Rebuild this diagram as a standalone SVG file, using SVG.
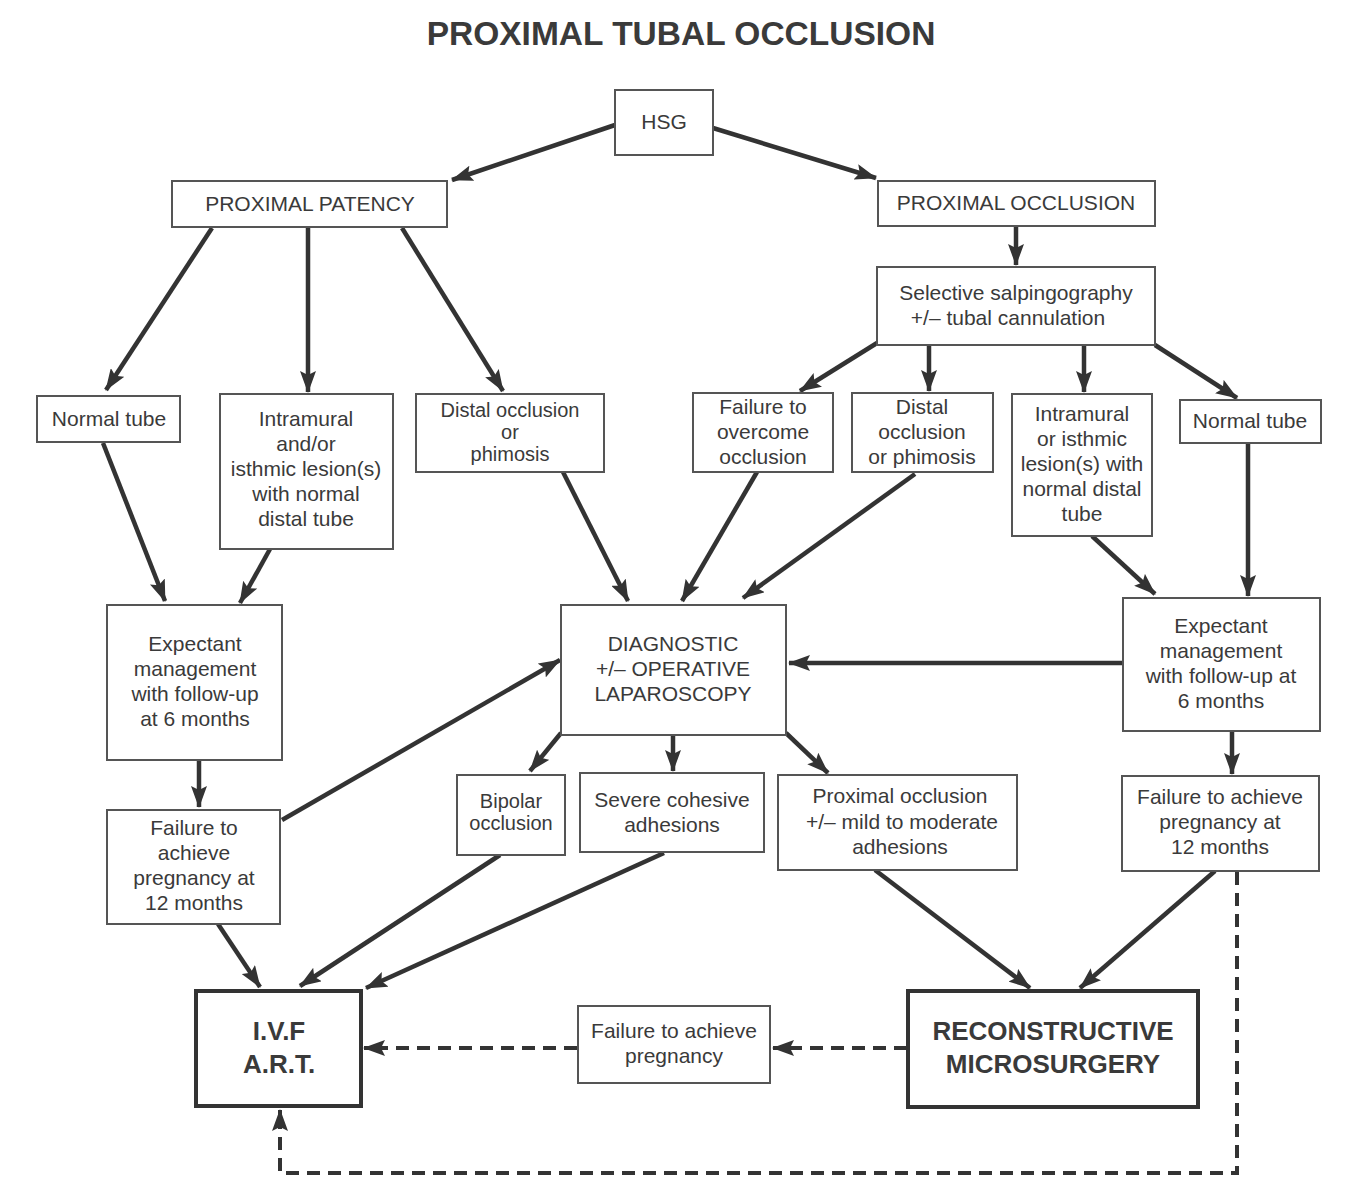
<svg xmlns="http://www.w3.org/2000/svg" width="1362" height="1178" viewBox="0 0 1362 1178">
<defs>
<style>
.box{fill:#fff;stroke:#555;stroke-width:2}
.bbox{fill:#fff;stroke:#333;stroke-width:4}
text{font-family:"Liberation Sans",Arial,sans-serif;fill:#3a3a3a;text-anchor:middle}
.t{font-size:21px}
.s{font-size:20px}
.b{font-size:26px;font-weight:bold}
.ttl{font-size:33.5px;font-weight:bold}
.c{fill:none;stroke:#333;stroke-width:4.5;marker-end:url(#ah)}
.d{fill:none;stroke:#333;stroke-width:4;stroke-dasharray:13 8}
</style>
<marker id="ah" markerUnits="userSpaceOnUse" markerWidth="22" markerHeight="16" refX="21" refY="8" orient="auto">
<path d="M0,0 L22,8 L0,16 L4,8 z" fill="#333"/>
</marker>
</defs>
<rect width="1362" height="1178" fill="#fff"/>
<text class="ttl" x="681" y="45">PROXIMAL TUBAL OCCLUSION</text>

<g id="connectors">
<path class="c" d="M615,125 L452,180"/>
<path class="c" d="M713,128 L876,178"/>
<path class="c" d="M212,228 L106,390"/>
<path class="c" d="M308,228 L308,392"/>
<path class="c" d="M402,228 L503,391"/>
<path class="c" d="M1016,227 L1016,265"/>
<path class="c" d="M877,343 L800,391"/>
<path class="c" d="M929,345 L929,391"/>
<path class="c" d="M1084,345 L1084,392"/>
<path class="c" d="M1155,345 L1237,398"/>
<path class="c" d="M103,443 L165,601"/>
<path class="c" d="M270,549 L240,603"/>
<path class="c" d="M563,472 L628,601"/>
<path class="c" d="M757,472 L682,601"/>
<path class="c" d="M915,474 L743,598"/>
<path class="c" d="M1092,536 L1155,594"/>
<path class="c" d="M1248,444 L1248,596"/>
<path class="c" d="M1123,663 L789,663"/>
<path class="c" d="M199,760 L199,807"/>
<path class="c" d="M282,820 L560,660"/>
<path class="c" d="M561,733 L530,771"/>
<path class="c" d="M673,735 L673,771"/>
<path class="c" d="M786,733 L828,773"/>
<path class="c" d="M1232,731 L1232,774"/>
<path class="c" d="M218,924 L260,987"/>
<path class="c" d="M500,855 L300,986"/>
<path class="c" d="M664,853 L366,988"/>
<path class="c" d="M875,870 L1030,988"/>
<path class="c" d="M1215,871 L1080,988"/>
<path class="d" d="M907,1048 L790,1048"/>
<path class="c" d="M790,1048 L773,1048" style="stroke-width:4"/>
<path class="d" d="M577,1048 L380,1048"/>
<path class="c" d="M380,1048 L364,1048" style="stroke-width:4"/>
<path class="d" d="M1237,872 L1237,1173 L280,1173 L280,1128"/>
<path class="c" d="M280,1128 L280,1110" style="stroke-width:4"/>
</g>

<g id="hsg"><rect class="box" x="615" y="90" width="98" height="65"/><text class="t" x="664" y="129">HSG</text></g>
<g id="proximal-patency"><rect class="box" x="172" y="181" width="275" height="46"/><text class="t" x="310" y="211">PROXIMAL PATENCY</text></g>
<g id="proximal-occlusion"><rect class="box" x="878" y="181" width="277" height="45"/><text class="t" x="1016" y="210">PROXIMAL OCCLUSION</text></g>
<g id="selective"><rect class="box" x="877" y="267" width="278" height="78"/><text class="t" x="1016" y="300">Selective salpingography</text><text class="t" x="1008" y="325">+/– tubal cannulation</text></g>
<g id="normal-tube-left"><rect class="box" x="37" y="396" width="143" height="46"/><text class="t" x="109" y="426">Normal tube</text></g>
<g id="intramural-left"><rect class="box" x="220" y="394" width="173" height="155"/>
<text class="t" x="306" y="426">Intramural</text><text class="t" x="306" y="451">and/or</text><text class="t" x="306" y="476">isthmic lesion(s)</text><text class="t" x="306" y="501">with normal</text><text class="t" x="306" y="526">distal tube</text></g>
<g id="distal-left"><rect class="box" x="416" y="394" width="188" height="78"/>
<text class="s" x="510" y="417">Distal occlusion</text><text class="s" x="510" y="439">or</text><text class="s" x="510" y="461">phimosis</text></g>
<g id="failure-overcome"><rect class="box" x="693" y="393" width="140" height="79"/>
<text class="t" x="763" y="414">Failure to</text><text class="t" x="763" y="439">overcome</text><text class="t" x="763" y="464">occlusion</text></g>
<g id="distal-right"><rect class="box" x="852" y="393" width="141" height="79"/>
<text class="t" x="922" y="414">Distal</text><text class="t" x="922" y="439">occlusion</text><text class="t" x="922" y="464">or phimosis</text></g>
<g id="intramural-right"><rect class="box" x="1012" y="394" width="140" height="142"/>
<text class="t" x="1082" y="421">Intramural</text><text class="t" x="1082" y="446">or isthmic</text><text class="t" x="1082" y="471">lesion(s) with</text><text class="t" x="1082" y="496">normal distal</text><text class="t" x="1082" y="521">tube</text></g>
<g id="normal-tube-right"><rect class="box" x="1180" y="400" width="141" height="43"/><text class="t" x="1250" y="428">Normal tube</text></g>
<g id="expectant-left"><rect class="box" x="107" y="605" width="175" height="155"/>
<text class="t" x="195" y="651">Expectant</text><text class="t" x="195" y="676">management</text><text class="t" x="195" y="701">with follow-up</text><text class="t" x="195" y="726">at 6 months</text></g>
<g id="diagnostic"><rect class="box" x="561" y="605" width="225" height="130"/>
<text class="t" x="673" y="651">DIAGNOSTIC</text><text class="t" x="673" y="676">+/– OPERATIVE</text><text class="t" x="673" y="701">LAPAROSCOPY</text></g>
<g id="expectant-right"><rect class="box" x="1123" y="598" width="197" height="133"/>
<text class="t" x="1221" y="633">Expectant</text><text class="t" x="1221" y="658">management</text><text class="t" x="1221" y="683">with follow-up at</text><text class="t" x="1221" y="708">6 months</text></g>
<g id="failure-left"><rect class="box" x="107" y="810" width="173" height="114"/>
<text class="t" x="194" y="835">Failure to</text><text class="t" x="194" y="860">achieve</text><text class="t" x="194" y="885">pregnancy at</text><text class="t" x="194" y="910">12 months</text></g>
<g id="bipolar"><rect class="box" x="457" y="775" width="108" height="80"/>
<text class="s" x="511" y="808">Bipolar</text><text class="s" x="511" y="830">occlusion</text></g>
<g id="severe"><rect class="box" x="580" y="773" width="184" height="79"/>
<text class="t" x="672" y="807">Severe cohesive</text><text class="t" x="672" y="832">adhesions</text></g>
<g id="proximal-mild"><rect class="box" x="778" y="775" width="239" height="95"/>
<text class="t" x="900" y="803">Proximal occlusion</text><text class="t" x="902" y="829">+/– mild to moderate</text><text class="t" x="900" y="854">adhesions</text></g>
<g id="failure-right"><rect class="box" x="1122" y="776" width="197" height="95"/>
<text class="t" x="1220" y="804">Failure to achieve</text><text class="t" x="1220" y="829">pregnancy at</text><text class="t" x="1220" y="854">12 months</text></g>
<g id="ivf"><rect class="bbox" x="196" y="991" width="165" height="115"/>
<text class="b" x="279" y="1040">I.V.F</text><text class="b" x="279" y="1073">A.R.T.</text></g>
<g id="failure-pregnancy"><rect class="box" x="578" y="1006" width="192" height="77"/>
<text class="t" x="674" y="1038">Failure to achieve</text><text class="t" x="674" y="1063">pregnancy</text></g>
<g id="reconstructive"><rect class="bbox" x="908" y="991" width="290" height="116"/>
<text class="b" x="1053" y="1040">RECONSTRUCTIVE</text><text class="b" x="1053" y="1073">MICROSURGERY</text></g>
</svg>
